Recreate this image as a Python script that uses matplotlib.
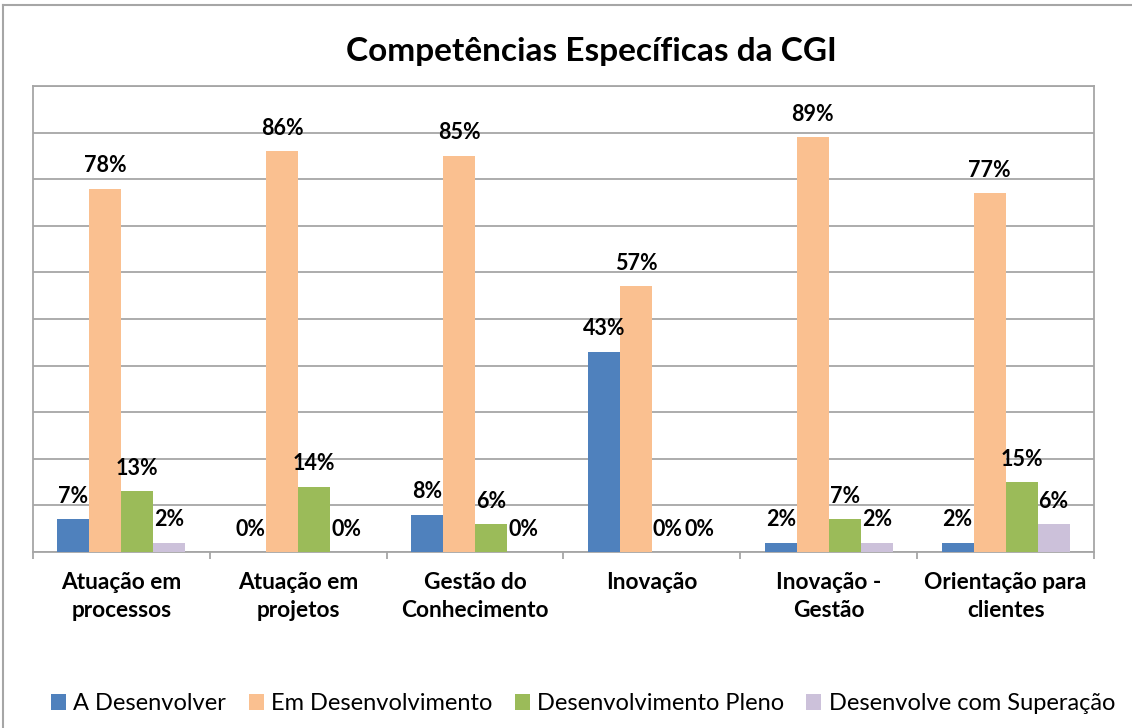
import matplotlib.pyplot as plt
import numpy as np
from matplotlib.lines import Line2D

plt.rcParams['font.family'] = ['Lato', 'DejaVu Sans']

#### Data ####
categorias = ["Atuação em\nprocessos", "Atuação em\nprojetos", "Gestão do\nConhecimento",
              "Inovação", "Inovação -\nGestão", "Orientação para\nclientes"]
series = ["A Desenvolver", "Em Desenvolvimento", "Desenvolvimento Pleno",
          "Desenvolve com Superação"]
a_desenvolver = [7, 0, 8, 43, 2, 2]
em_desenvolvimento = [78, 86, 85, 57, 89, 77]
desenv_pleno = [13, 14, 6, 0, 7, 15]
desenv_superacao = [2, 0, 0, 0, 2, 6]
valores = [a_desenvolver, em_desenvolvimento, desenv_pleno, desenv_superacao]
cores = ["#4F81BD", "#FAC090", "#9BBB59", "#CCC1DA"]

grid_cor = "#A6A6A6"

#### Plot ####
fig = plt.figure(figsize=(11.32, 7.28), dpi=100)
ax = fig.add_axes([33/1132, 1 - 552/728, (1094 - 33)/1132, (552 - 86)/728])

x = np.arange(len(categorias))
w = 0.181
for k, (vals, cor, nome) in enumerate(zip(valores, cores, series)):
    pos = x + (k - 1.5) * w
    ax.bar(pos, vals, width=w, color=cor, label=nome, zorder=3)
    for px, v in zip(pos, vals):
        ax.annotate(f"{v}%", (px, v), xytext=(0, 16.5), textcoords="offset points",
                    ha="center", va="center", fontsize=15.5, fontweight="bold", zorder=4)

ax.set_xlim(-0.5, len(categorias) - 0.5)
ax.set_ylim(0, 100)
ax.set_yticks(np.arange(0, 101, 10))
ax.yaxis.set_tick_params(length=0, labelleft=False)
ax.grid(axis="y", color=grid_cor, lw=1.3, zorder=0)

ax.set_xticks(x)
ax.set_xticklabels(categorias, fontsize=16.3, fontweight="bold", linespacing=1.4)
ax.tick_params(axis="x", which="major", length=0, pad=14.5)
ax.set_xticks(np.arange(-0.5, len(categorias)), minor=True)
ax.tick_params(axis="x", which="minor", length=5, width=1.3, color=grid_cor, direction="out")

for s in ax.spines.values():
    s.set_color(grid_cor)
    s.set_linewidth(1.3)

# title centred over the whole chart box
fig.text(591/1132, 1 - 52/728, "Competências Específicas da CGI", ha="center", va="center",
         fontsize=24, fontweight="bold")

# outer chart border (left and top edges)
fig.add_artist(Line2D([3/1132, 3/1132], [0, 1 - 5/728], transform=fig.transFigure,
                      color=grid_cor, lw=1.5))
fig.add_artist(Line2D([3/1132, 1], [1 - 5/728, 1 - 5/728], transform=fig.transFigure,
                      color=grid_cor, lw=1.5))

handles, labels = ax.get_legend_handles_labels()
fig.legend(handles, labels, loc="center", bbox_to_anchor=(583/1132, 1 - 704/728), ncol=4,
           frameon=False, fontsize=17, handlelength=0.64, handleheight=0.64,
           handletextpad=0.3, columnspacing=0.95)

fig.savefig("out.png", dpi=100)
